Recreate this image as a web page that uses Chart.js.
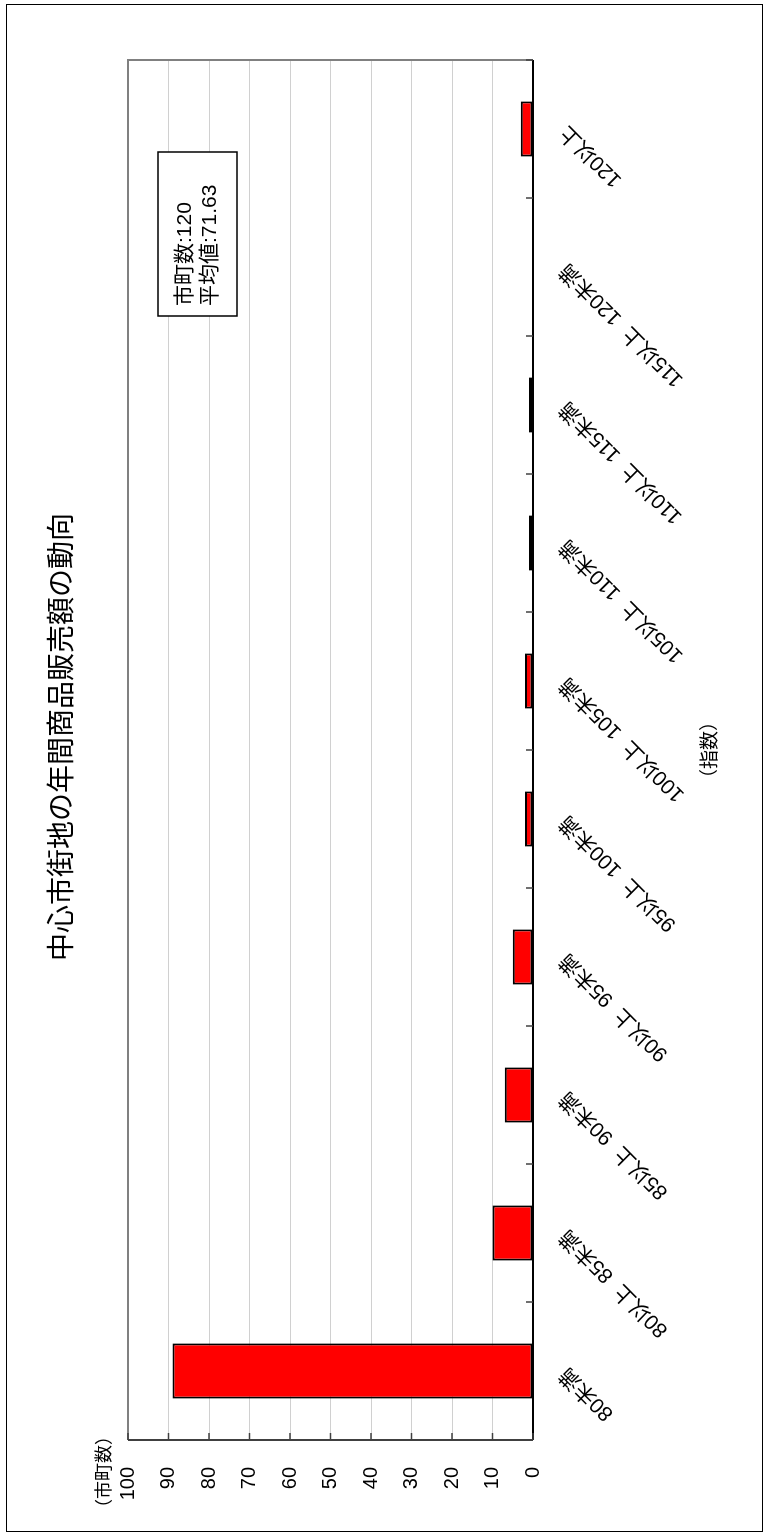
<!DOCTYPE html>
<html>
<head>
<meta charset="utf-8">
<script src="https://cdn.jsdelivr.net/npm/chart.js@4"></script>
<style>
  html, body { margin: 0; padding: 0; background: #fff; overflow: hidden; }
  #wrap {
    position: absolute; left: 0; top: 0;
    width: 1536px; height: 771px;
    transform-origin: 0 0;
    transform: translate(0, 1536px) rotate(-90deg);
  }
</style>
</head>
<body>
<div id="wrap"><canvas id="myChart" width="1536" height="771"></canvas></div>
<script>
var categories = ['80未満', '80以上  85未満', '85以上  90未満', '90以上  95未満', '95以上  100未満',
    '100以上  105未満', '105以上  110未満', '110以上  115未満', '115以上  120未満', '120以上'];
var counts = [89, 10, 7, 5, 2, 2, 1, 1, 0, 3];
var yTicks = [0, 10, 20, 30, 40, 50, 60, 70, 80, 90, 100];
var infoLines = ['市町数:120', '平均値:71.63'];
var chartTitle = '中心市街地の年間商品販売額の動向';

var FONT = '"Liberation Sans", Arial, "Noto Sans CJK JP", sans-serif';
Chart.defaults.font.family = FONT;
Chart.defaults.color = '#000';

// title, frame, inner tick marks, unit label and info box
var extras = {
    id: 'extras',
    afterDraw: function(chart) {
        var c = chart.ctx, a = chart.chartArea;
        var xs = chart.scales.x, ys = chart.scales.y;
        c.save();
        // outer frame
        c.strokeStyle = '#000';
        c.lineWidth = 1;
        c.strokeRect(4.5, 6.5, 1527, 756);
        // title
        c.fillStyle = '#000';
        c.font = '28px ' + FONT;
        c.textAlign = 'center';
        c.textBaseline = 'middle';
        c.fillText(chartTitle, (a.left + a.right) / 2 + 13, 63);
        // plot frame top / right
        c.strokeStyle = '#808080';
        c.lineWidth = 2;
        c.beginPath();
        c.moveTo(a.left, a.top); c.lineTo(a.right, a.top); c.lineTo(a.right, a.bottom);
        c.stroke();
        // axes
        c.strokeStyle = '#404040';
        c.beginPath(); c.moveTo(a.left, a.top); c.lineTo(a.left, a.bottom); c.stroke();
        c.strokeStyle = '#000';
        c.beginPath(); c.moveTo(a.left, a.bottom); c.lineTo(a.right, a.bottom); c.stroke();
        // tick marks pointing inside
        c.strokeStyle = '#404040';
        c.lineWidth = 1.5;
        yTicks.forEach(function(v) {
            var p = ys.getPixelForValue(v);
            c.beginPath(); c.moveTo(a.left, p); c.lineTo(a.left + 7, p); c.stroke();
        });
        for (var i = 0; i <= categories.length; i++) {
            var p;
            if (i === 0) p = a.left;
            else if (i === categories.length) p = a.right;
            else p = (xs.getPixelForValue(i - 1) + xs.getPixelForValue(i)) / 2;
            c.beginPath(); c.moveTo(p, a.bottom); c.lineTo(p, a.bottom - 7); c.stroke();
        }
        // unit label
        c.fillStyle = '#000';
        c.font = '18px ' + FONT;
        c.textAlign = 'left';
        c.textBaseline = 'middle';
        c.fillText('（市町数）', 19, a.top - 23);
        // info box
        var bx = a.right - 256, by = 158, bw = 164, bh = 79;
        c.fillStyle = '#fff';
        c.fillRect(bx, by, bw, bh);
        c.strokeStyle = '#000';
        c.lineWidth = 1.5;
        c.strokeRect(bx, by, bw, bh);
        c.fillStyle = '#000';
        c.font = '21px ' + FONT;
        c.fillText(infoLines[0], bx + 10, by + 27);
        c.fillText(infoLines[1], bx + 10, by + 52);
        c.restore();
    }
};

var ctx = document.getElementById('myChart').getContext('2d');
var myChart = new Chart(ctx, {
    type: 'bar',
    data: {
        labels: categories,
        datasets: [{
            label: '市町数',
            data: counts,
            backgroundColor: '#ff0000',
            borderColor: '#000',
            borderWidth: 2,
            borderSkipped: false,
            barPercentage: 0.4,
            categoryPercentage: 1
        }]
    },
    options: {
        responsive: false,
        animation: false,
        layout: { padding: { left: 0, right: 60, top: 128, bottom: 0 } },
        plugins: {
            legend: { display: false },
            tooltip: { enabled: false },
            title: { display: false }
        },
        scales: {
            x: {
                grid: { display: false, drawTicks: false },
                border: { display: false },
                afterFit: function(s) { s.height = 238; },
                ticks: {
                    autoSkip: false,
                    minRotation: 45,
                    maxRotation: 45,
                    padding: 22,
                    font: { size: 21 },
                    color: '#000'
                },
                title: {
                    display: true,
                    text: '（指数）',
                    font: { size: 19 },
                    color: '#000',
                    padding: { top: 0, bottom: 49 }
                }
            },
            y: {
                min: 0,
                max: 100,
                afterFit: function(s) { s.width = 96; },
                afterBuildTicks: function(s) {
                    s.ticks = yTicks.map(function(v) { return { value: v }; });
                },
                grid: { color: '#d0d0d0', lineWidth: 1, drawTicks: false },
                border: { display: false },
                ticks: { padding: 27, font: { size: 20 }, color: '#000' }
            }
        }
    },
    plugins: [extras]
});
</script>
</body>
</html>
